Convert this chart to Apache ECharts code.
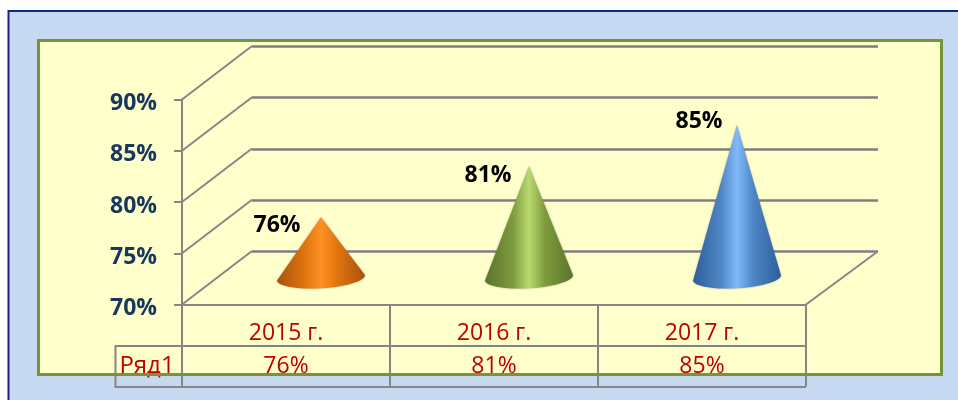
<!DOCTYPE html>
<html>
<head>
<meta charset="utf-8">
<style>
	html, body { margin: 0; padding: 0; background: #fff; overflow: hidden; }
	#chart { width: 958px; height: 400px; }
</style>
<script src="https://cdn.jsdelivr.net/npm/echarts@6/dist/echarts.min.js"></script>
</head>
<body>
<div id="chart"></div>
<script>
var categories = ['2015 г.', '2016 г.', '2017 г.'];
var values = [76, 81, 85];
var yTicks = [70, 75, 80, 85, 90];
var seriesName = 'Ряд1';

var font = '"Open Sans", "Noto Sans", sans-serif';
var lineColor = '#868686';
var textRed = '#C00000';
// dark edge / middle / light centre of each cone
var coneColors = [
	['#A9520C', '#E0750F', '#FF9024'],
	['#5A7429', '#7F9B3E', '#B9DA6E'],
	['#2C5F9A', '#4F86C6', '#82B9F8']
];
// where each value label sits relative to its cone tip
var labelOffsets = [[-44, 8], [-41, 9], [-38, -4]];
// 3D depth of the floor in px
var depthX = 70, depthY = 53.5;

function pct(v) { return v + '%'; }

var myChart = echarts.init(document.getElementById('chart'));

// slanted lines from the front axis to the back wall
function renderDepthLine(params, api) {
	var p = api.coord([0, api.value(0)]);
	var x = params.coordSys.x;
	return {
		type: 'line',
		shape: { x1: x, y1: p[1], x2: x + depthX, y2: p[1] - depthY },
		style: { stroke: lineColor, lineWidth: 2 }
	};
}

function renderCone(params, api) {
	var idx = api.value(0);
	var base = api.coord([idx, yTicks[0]]);
	var top = api.coord([idx, api.value(1)]);
	var cx = base[0] + depthX / 2;
	var cy = base[1] - depthY / 2;
	var tipY = top[1] - depthY / 2 + 1;
	var rx = 44, ry = 10.5, tilt = -3.5 * Math.PI / 180;
	var pts = [[cx, tipY]];
	for (var a = 0; a <= 180; a += 6) {
		var t = a * Math.PI / 180;
		var ex = -rx * Math.cos(t), ey = ry * Math.sin(t);
		pts.push([cx + ex * Math.cos(tilt) - ey * Math.sin(tilt), cy + ex * Math.sin(tilt) + ey * Math.cos(tilt)]);
	}
	var c = coneColors[idx];
	var off = labelOffsets[idx];
	return {
		type: 'group',
		children: [{
			type: 'polygon',
			shape: { points: pts },
			style: {
				fill: new echarts.graphic.LinearGradient(0, 0, 1, 0, [
					{ offset: 0, color: c[0] },
					{ offset: 0.32, color: c[1] },
					{ offset: 0.5, color: c[2] },
					{ offset: 0.68, color: c[1] },
					{ offset: 1, color: c[0] }
				]),
				shadowBlur: 2,
				shadowColor: 'rgba(90,90,80,0.5)'
			}
		}, {
			type: 'text',
			style: {
				x: cx + off[0],
				y: tipY + off[1],
				text: pct(api.value(1)),
				align: 'center',
				verticalAlign: 'middle',
				fill: '#000',
				font: 'bold 23px ' + font
			}
		}]
	};
}

myChart.setOption({
	animation: false,
	grid: [
		{ left: 182, right: 152, top: 99.5, height: 205 },
		{ left: 252, right: 80, top: 46, height: 205.5 }
	],
	xAxis: [{
		type: 'category',
		data: categories,
		axisLine: { lineStyle: { color: lineColor, width: 2 } },
		axisTick: { show: true, length: 82, lineStyle: { color: lineColor, width: 2 } },
		axisLabel: {
			margin: 12,
			color: textRed,
			fontFamily: font,
			fontSize: 23,
			lineHeight: 33,
			formatter: function (v, i) { return v + '\n' + pct(values[i]); }
		}
	}, {
		gridIndex: 1,
		type: 'category',
		data: categories,
		show: false
	}],
	yAxis: [{
		type: 'value',
		min: 70,
		max: 90,
		interval: 5,
		axisLine: { show: true, lineStyle: { color: lineColor, width: 2 } },
		axisTick: { show: true, length: 8, lineStyle: { color: lineColor, width: 2 } },
		splitLine: { show: false },
		axisLabel: {
			margin: 25,
			formatter: function (v) { return '{v|' + pct(v) + '}'; },
			rich: {
				v: {
					padding: [8, 0, 0, 0],
					color: '#17375E',
					fontFamily: font,
					fontSize: 23,
					fontWeight: 'bold'
				}
			}
		}
	}, {
		gridIndex: 1,
		type: 'value',
		min: 70,
		max: 90,
		interval: 5,
		axisLine: { show: false },
		axisTick: { show: false },
		axisLabel: { show: false },
		splitLine: { show: true, lineStyle: { color: '#807C86', width: 2.5 } }
	}],
	series: [{
		type: 'custom',
		name: 'depth',
		xAxisIndex: 0,
		yAxisIndex: 0,
		data: yTicks.map(function (v) { return [v]; }),
		encode: { y: 0 },
		silent: true,
		renderItem: renderDepthLine
	}, {
		type: 'custom',
		name: seriesName,
		xAxisIndex: 0,
		yAxisIndex: 0,
		data: values.map(function (v, i) { return [i, v]; }),
		encode: { x: 0, y: 1 },
		z: 5,
		renderItem: renderCone
	}],
	graphic: [
		// blue panel and yellow plot background
		{ type: 'rect', z: -20, shape: { x: 8.5, y: 11, width: 960, height: 400 }, style: { fill: '#C6D9F1', stroke: '#10297A', lineWidth: 2 } },
		{ type: 'rect', z: -10, shape: { x: 38.5, y: 40.5, width: 903, height: 334 }, style: { fill: '#FFFFCC' } },
		// floor edge on the right
		{ type: 'line', z: 1, shape: { x1: 806, y1: 304.5, x2: 877, y2: 252 }, style: { stroke: lineColor, lineWidth: 2 } },
		// data table frame
		{ type: 'polyline', z: 1, shape: { points: [[806, 346], [115.5, 346], [115.5, 387], [806, 387]] }, style: { stroke: lineColor, lineWidth: 2, fill: null } },
		{ type: 'text', z: 1, style: { x: 147, y: 366, text: seriesName, align: 'center', verticalAlign: 'middle', fill: textRed, font: '24px ' + font } },
		// green frame goes over the table
		{ type: 'rect', z: 50, shape: { x: 38.5, y: 40.5, width: 903, height: 334 }, style: { fill: null, stroke: '#77933C', lineWidth: 3 } }
	]
});
</script>
</body>
</html>
